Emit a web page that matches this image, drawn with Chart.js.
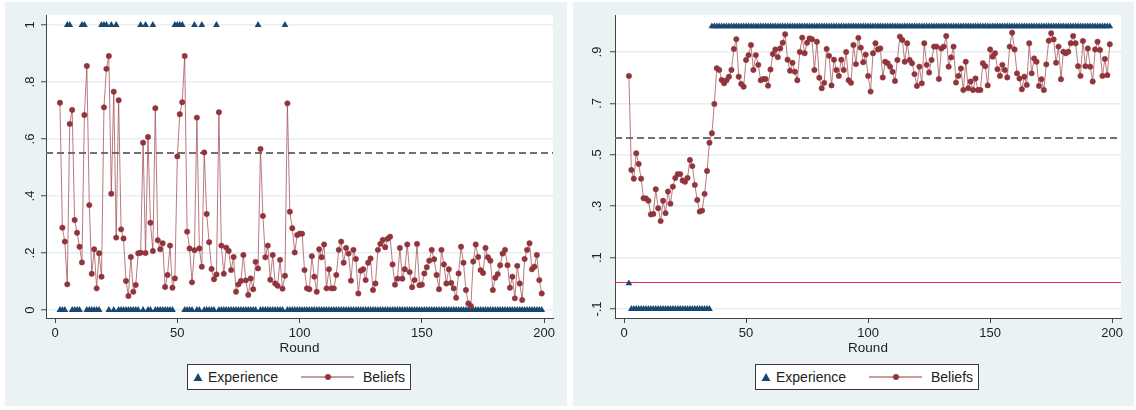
<!DOCTYPE html>
<html>
<head>
<meta charset="utf-8">
<script src="https://cdn.jsdelivr.net/npm/chart.js@4.4.0/dist/chart.umd.min.js"></script>
<style>
  html, body { margin: 0; padding: 0; background: #fff; width: 1136px; height: 410px; overflow: hidden;
    font-family: "Liberation Sans", Arial, sans-serif; }
  .panel { position: absolute; top: 2px; height: 404px; background: #eaf2f3; }
  #p1 { left: 5px; width: 562px; }
  #p2 { left: 573px; width: 561px; }
  .panel canvas { position: absolute; left: 0; top: 0; }
  .legend { position: absolute; left: 182px; top: 362px; width: 224px; height: 26px; box-sizing: border-box;
    border: 1px solid #3a3a3a; background: #fff; font-size: 14px; color: #222; }
  .legend span { position: absolute; top: 4px; line-height: 16px; }
  .legend svg { position: absolute; }
</style>
</head>
<body>
<div class="panel" id="p1">
  <canvas id="c1" width="562" height="404"></canvas>
  <div class="legend" id="lg1"></div>
</div>
<div class="panel" id="p2">
  <canvas id="c2" width="561" height="404"></canvas>
  <div class="legend" id="lg2"></div>
</div>
<script>
// ---- data ----
const firstRound = 2, lastRound = 199;
const xTicks = [0, 50, 100, 150, 200];

const leftYTicks = [0, 0.2, 0.4, 0.6, 0.8, 1];
const leftYLabels = ['0', '.2', '.4', '.6', '.8', '1'];
const rightYTicks = [-0.1, 0.1, 0.3, 0.5, 0.7, 0.9];
const rightYLabels = ['-.1', '.1', '.3', '.5', '.7', '.9'];

const legendLabels = ['Experience', 'Beliefs'];
const xTitle = 'Round';

// left panel: rounds with experience = 1 (others 0)
const leftExpOnes = [5, 6, 11, 12, 19, 20, 21, 23, 25, 35, 37, 40, 49, 50, 51, 52, 57, 60, 66, 83, 94];
const leftThreshold = 0.551;

// rounds 2..199
const leftBeliefs = [
  0.727, 0.289, 0.240, 0.090, 0.653, 0.702, 0.316, 0.271, 0.222, 0.167,
  0.684, 0.856, 0.368, 0.127, 0.213, 0.076, 0.199, 0.117, 0.711, 0.846,
  0.891, 0.408, 0.766, 0.254, 0.736, 0.283, 0.251, 0.102, 0.049, 0.186,
  0.064, 0.088, 0.199, 0.201, 0.587, 0.200, 0.607, 0.306, 0.207, 0.708,
  0.245, 0.213, 0.234, 0.081, 0.123, 0.226, 0.078, 0.111, 0.539, 0.687,
  0.729, 0.891, 0.275, 0.216, 0.097, 0.210, 0.675, 0.216, 0.152, 0.553,
  0.337, 0.238, 0.144, 0.108, 0.125, 0.694, 0.226, 0.127, 0.219, 0.207,
  0.140, 0.186, 0.064, 0.090, 0.102, 0.193, 0.104, 0.053, 0.111, 0.073,
  0.169, 0.146, 0.565, 0.330, 0.185, 0.226, 0.106, 0.193, 0.093, 0.085,
  0.176, 0.075, 0.120, 0.725, 0.345, 0.287, 0.202, 0.263, 0.268, 0.268,
  0.140, 0.076, 0.073, 0.189, 0.117, 0.064, 0.213, 0.185, 0.230, 0.076,
  0.143, 0.076, 0.076, 0.123, 0.211, 0.240, 0.166, 0.218, 0.198, 0.103,
  0.211, 0.179, 0.058, 0.138, 0.143, 0.105, 0.166, 0.181, 0.070, 0.093,
  0.211, 0.232, 0.246, 0.220, 0.250, 0.257, 0.160, 0.089, 0.110, 0.218,
  0.110, 0.143, 0.230, 0.133, 0.080, 0.105, 0.232, 0.087, 0.089, 0.128,
  0.150, 0.173, 0.211, 0.178, 0.123, 0.073, 0.211, 0.160, 0.093, 0.143,
  0.095, 0.076, 0.043, 0.128, 0.222, 0.166, 0.070, 0.023, 0.014, 0.170,
  0.230, 0.186, 0.140, 0.130, 0.218, 0.185, 0.173, 0.070, 0.113, 0.126,
  0.157, 0.198, 0.211, 0.157, 0.078, 0.117, 0.041, 0.155, 0.093, 0.035,
  0.179, 0.211, 0.234, 0.143, 0.152, 0.193, 0.105, 0.058
];

// right panel: experience as runs [from, to, value]
const rightExpRuns = [[2, 2, 0], [3, 35, -0.1], [36, 199, 1]];
const rightThreshold = 0.565;
const rightZeroLine = 0;

const rightBeliefs = [
  0.807, 0.441, 0.407, 0.506, 0.464, 0.407, 0.331, 0.330, 0.321, 0.268,
  0.270, 0.366, 0.292, 0.242, 0.321, 0.273, 0.357, 0.310, 0.376, 0.410,
  0.425, 0.425, 0.400, 0.395, 0.410, 0.480, 0.456, 0.383, 0.324, 0.279,
  0.283, 0.348, 0.437, 0.547, 0.584, 0.698, 0.837, 0.830, 0.791, 0.778,
  0.790, 0.804, 0.830, 0.912, 0.950, 0.804, 0.776, 0.765, 0.869, 0.888,
  0.927, 0.830, 0.888, 0.850, 0.790, 0.795, 0.795, 0.769, 0.832, 0.892,
  0.910, 0.880, 0.914, 0.936, 0.969, 0.870, 0.827, 0.858, 0.823, 0.790,
  0.900, 0.956, 0.895, 0.936, 0.953, 0.950, 0.830, 0.940, 0.800, 0.759,
  0.780, 0.912, 0.885, 0.770, 0.870, 0.830, 0.807, 0.870, 0.830, 0.900,
  0.790, 0.780, 0.927, 0.853, 0.955, 0.917, 0.860, 0.890,
  0.807, 0.746, 0.895, 0.934, 0.910, 0.914, 0.801, 0.862, 0.856, 0.843,
  0.823, 0.787, 0.869, 0.960, 0.947, 0.862, 0.934, 0.869, 0.856, 0.814,
  0.768, 0.843, 0.778, 0.934, 0.850, 0.820, 0.869, 0.921, 0.921, 0.795,
  0.914, 0.921, 0.962, 0.843, 0.879, 0.921, 0.781, 0.807, 0.836, 0.752,
  0.862, 0.759, 0.785, 0.752, 0.797, 0.752, 0.752, 0.856, 0.845, 0.770,
  0.910, 0.882, 0.895, 0.833, 0.807, 0.850, 0.830, 0.801, 0.921, 0.975,
  0.910, 0.817, 0.797, 0.755, 0.804, 0.772, 0.934, 0.817, 0.875, 0.862,
  0.768, 0.794, 0.752, 0.852, 0.944, 0.973, 0.949, 0.858, 0.921, 0.794,
  0.901, 0.895, 0.901, 0.934, 0.962, 0.934, 0.845, 0.807, 0.943, 0.845,
  0.914, 0.843, 0.785, 0.910, 0.940, 0.908, 0.807, 0.873, 0.810, 0.930
];

// ---- helpers ----
const rounds = [];
for (let r = firstRound; r <= lastRound; r++) rounds.push(r);

const pts = vals => vals.map((v, i) => ({ x: rounds[i], y: v }));
const leftExp = rounds.map(r => ({ x: r, y: leftExpOnes.includes(r) ? 1 : 0 }));
const rightExp = rounds.map(r => {
  const run = rightExpRuns.find(([a, b]) => r >= a && r <= b);
  return { x: r, y: run ? run[2] : null };
});

// ---- style ----
const NAVY = '#1a476f';
const MAROON = '#90353b';
const MAROON_LINE = 'rgba(160,72,80,0.72)';
const FONT = '"Liberation Sans", Arial, sans-serif';

// white plot region
const plotBg = {
  id: 'plotBg',
  beforeDraw(c) {
    const a = c.chartArea, ctx = c.ctx;
    ctx.save();
    ctx.fillStyle = '#fff';
    ctx.fillRect(a.left, a.top, a.right - a.left, a.bottom - a.top);
    ctx.restore();
  }
};

// horizontal reference lines, drawn under the data
function refLines(lines) {
  return {
    id: 'refLines',
    beforeDatasetsDraw(c) {
      const a = c.chartArea, ctx = c.ctx, y = c.scales.y;
      lines.forEach(l => {
        const py = Math.round(y.getPixelForValue(l.value));
        ctx.save();
        ctx.fillStyle = l.color;
        if (l.dash) {
          // dashed: dash / gap pattern along the plot width
          for (let x = a.left; x < a.right; x += l.dash[0] + l.dash[1]) {
            ctx.fillRect(x, py - 1, Math.min(l.dash[0], a.right - x), l.width);
          }
        } else {
          ctx.fillRect(a.left, py - 1, a.right - a.left, l.width);
        }
        ctx.restore();
      });
    }
  };
}

// vertical (rotated) y tick labels, Stata style
function yLabels(values, labels, offset) {
  return {
    id: 'yLabels',
    afterDraw(c) {
      const s = c.scales.y, ctx = c.ctx;
      ctx.save();
      ctx.font = '13px ' + FONT;
      ctx.fillStyle = '#222';
      ctx.textAlign = 'center';
      ctx.textBaseline = 'middle';
      values.forEach((v, i) => {
        ctx.save();
        ctx.translate(c.chartArea.left - offset, s.getPixelForValue(v));
        ctx.rotate(-Math.PI / 2);
        ctx.fillText(labels[i], 0, 0);
        ctx.restore();
      });
      ctx.restore();
    }
  };
}

function makeChart(id, cfg) {
  return new Chart(document.getElementById(id), {
    type: 'line',
    data: {
      datasets: [
        { label: legendLabels[1], data: cfg.beliefs, borderColor: MAROON_LINE, borderWidth: 1,
          pointRadius: 2.7, pointBackgroundColor: MAROON, pointBorderColor: MAROON, pointBorderWidth: 0.5,
          tension: 0 },
        { label: legendLabels[0], data: cfg.exp, showLine: false, pointStyle: 'triangle',
          pointRadius: 3.9, pointBackgroundColor: NAVY, pointBorderColor: NAVY, pointBorderWidth: 0 }
      ]
    },
    options: {
      responsive: false,
      animation: false,
      devicePixelRatio: 1,
      events: [],
      layout: { padding: { top: 13, right: cfg.padRight, bottom: 50, left: 0 } },
      plugins: { legend: { display: false }, tooltip: { enabled: false } },
      scales: {
        x: {
          type: 'linear', min: -3.7, max: 203.6,
          afterBuildTicks: s => { s.ticks = xTicks.map(v => ({ value: v })); },
          afterFit: s => { s.height = 38; },
          ticks: { color: '#222', font: { size: 13, family: FONT }, padding: 3, maxRotation: 0 },
          grid: { drawOnChartArea: false, drawTicks: true, tickLength: 5, color: '#444', lineWidth: 1 },
          border: { color: '#444', width: 1 },
          title: { display: true, text: xTitle, color: '#222', font: { size: 13.5, family: FONT }, padding: 0 }
        },
        y: {
          type: 'linear', min: cfg.yMin, max: cfg.yMax,
          afterBuildTicks: s => { s.ticks = cfg.yTicks.map(v => ({ value: v })); },
          afterFit: s => { s.width = cfg.yWidth; },
          ticks: { display: false },
          grid: { color: '#e6eef0', lineWidth: 1.5, drawTicks: true, tickLength: 5, tickColor: '#444', tickWidth: 1 },
          border: { color: '#444', width: 1 }
        }
      }
    },
    plugins: [plotBg, refLines(cfg.lines), yLabels(cfg.yTicks, cfg.yLabels, cfg.labelOffset)]
  });
}

makeChart('c1', {
  beliefs: pts(leftBeliefs), exp: leftExp,
  yMin: -0.028, yMax: 1.035, yTicks: leftYTicks, yLabels: leftYLabels,
  yWidth: 41, padRight: 14, labelOffset: 16,
  lines: [{ value: leftThreshold, color: '#717171', width: 2, dash: [7, 4] }]
});

makeChart('c2', {
  beliefs: pts(rightBeliefs), exp: rightExp,
  yMin: -0.135, yMax: 1.044, yTicks: rightYTicks, yLabels: rightYLabels,
  yWidth: 42, padRight: 13, labelOffset: 18,
  lines: [
    { value: rightThreshold, color: '#717171', width: 2, dash: [7, 4] },
    { value: rightZeroLine, color: '#dc2a52', width: 1 }
  ]
});

// ---- legends ----
function buildLegend(id) {
  const el = document.getElementById(id);
  el.innerHTML =
    `<svg style="left:5px;top:7px" width="10" height="10"><polygon points="5,1 9.5,9 0.5,9" fill="${NAVY}"/></svg>` +
    `<span style="left:20px">${legendLabels[0]}</span>` +
    `<svg style="left:113px;top:6px" width="54" height="12"><line x1="0" y1="6" x2="53" y2="6" stroke="${MAROON_LINE}" stroke-width="1.5"/><circle cx="27" cy="6" r="3" fill="${MAROON}"/></svg>` +
    `<span style="left:175px">${legendLabels[1]}</span>`;
}
buildLegend('lg1');
buildLegend('lg2');
</script>
</body>
</html>
